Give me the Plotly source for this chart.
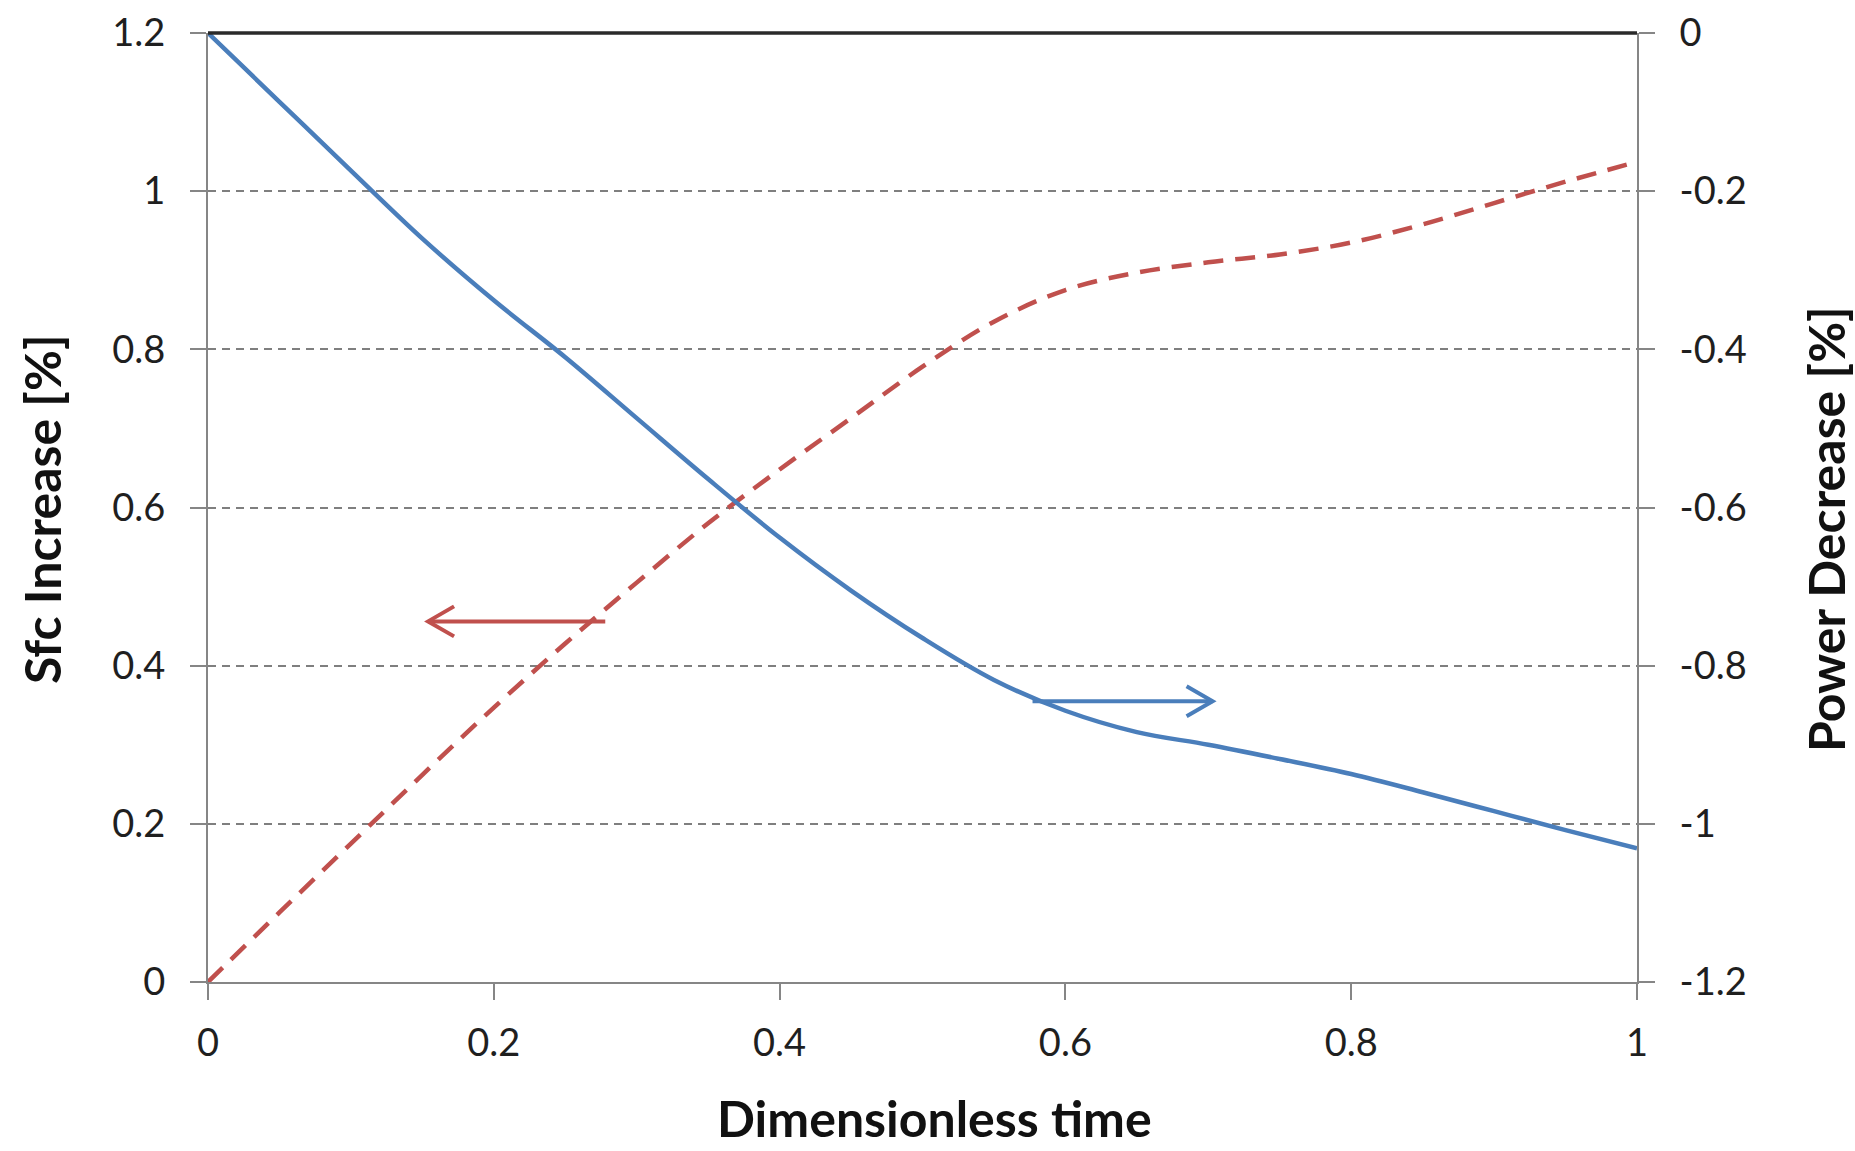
import plotly.graph_objects as go

# Data
t = [0, 0.05, 0.1, 0.15, 0.2, 0.25, 0.3, 0.35, 0.4, 0.45, 0.5,
     0.55, 0.6, 0.65, 0.7, 0.75, 0.8, 0.85, 0.9, 0.95, 1.0]
sfc_increase = [0, 0.088, 0.175, 0.262, 0.347, 0.428, 0.505, 0.58, 0.648, 0.713, 0.778,
                0.835, 0.875, 0.897, 0.91, 0.92, 0.935, 0.958, 0.985, 1.012, 1.037]
power_decrease = [0, -0.087, -0.174, -0.26, -0.338, -0.41, -0.487, -0.564, -0.638, -0.705, -0.765,
                  -0.818, -0.857, -0.884, -0.9, -0.918, -0.937, -0.96, -0.984, -1.008, -1.031]

x_ticks = [0, 0.2, 0.4, 0.6, 0.8, 1]
x_tick_labels = ["0", "0.2", "0.4", "0.6", "0.8", "1"]
y_left_ticks = [0, 0.2, 0.4, 0.6, 0.8, 1, 1.2]
y_left_labels = ["0", "0.2", "0.4", "0.6", "0.8", "1", "1.2"]
y_right_ticks = [-1.2, -1, -0.8, -0.6, -0.4, -0.2, 0]
y_right_labels = ["-1.2", "-1", "-0.8", "-0.6", "-0.4", "-0.2", "0"]

# Arrow annotations (tail x, head x, y on left axis)
red_arrow = dict(tail=0.278, head=0.154, y=0.456)
blue_arrow = dict(tail=0.577, head=0.703, y=0.355)

RED = "#C0504D"
BLUE = "#4A7EBB"
GRID = "#7F7F7F"
AXIS = "#868686"
FONT = "Lato"
TXT = "#1F1F1F"

fig = go.Figure()
fig.add_trace(go.Scatter(x=t, y=sfc_increase, mode="lines", yaxis="y",
                         line=dict(color=RED, width=4.5, dash="20px,12px", shape="spline", smoothing=1.0),
                         showlegend=False))
fig.add_trace(go.Scatter(x=t, y=power_decrease, mode="lines", yaxis="y2",
                         line=dict(color=BLUE, width=4.5, shape="spline", smoothing=1.0),
                         showlegend=False))

tick_font = dict(size=38, family=FONT, color=TXT)
fig.update_layout(
    width=1855, height=1151,
    margin=dict(l=208, r=218, t=33, b=169, autoexpand=False),
    paper_bgcolor="white", plot_bgcolor="white",
    font=dict(family=FONT, color=TXT),
    xaxis=dict(range=[0, 1], tickvals=x_ticks, ticktext=x_tick_labels, automargin=False,
               showgrid=False, zeroline=False, showline=True, linecolor=AXIS, linewidth=2,
               ticks="outside", ticklen=16, tickwidth=2, tickcolor=AXIS,
               tickfont=tick_font, ticklabelstandoff=10),
    yaxis=dict(range=[0, 1.2], tickvals=y_left_ticks, ticktext=y_left_labels, automargin=False,
               showgrid=True, gridcolor=GRID, gridwidth=2, griddash="8px,6px",
               zeroline=False, showline=True, linecolor=AXIS, linewidth=2,
               ticks="outside", ticklen=16, tickwidth=2, tickcolor=AXIS,
               tickfont=tick_font, ticklabelstandoff=17),
    yaxis2=dict(range=[-1.2, 0], tickvals=y_right_ticks, ticktext=y_right_labels, automargin=False,
                overlaying="y", side="right", showgrid=False, zeroline=False,
                showline=True, linecolor=AXIS, linewidth=2,
                ticks="outside", ticklen=16, tickwidth=2, tickcolor=AXIS,
                tickfont=tick_font, ticklabelstandoff=17),
)

# top dark border line
fig.add_shape(type="line", xref="paper", yref="paper", x0=0, x1=1, y0=1, y1=1,
              line=dict(color="#2A2A2A", width=3.5))

# arrows: shaft in data coordinates, open chevron head sized in pixels
for arr, col in ((red_arrow, RED), (blue_arrow, BLUE)):
    fig.add_shape(type="line", xref="x", yref="y",
                  x0=arr["tail"], x1=arr["head"], y0=arr["y"], y1=arr["y"],
                  line=dict(color=col, width=4))
    d = 1 if arr["tail"] > arr["head"] else -1
    fig.add_shape(type="path", xref="x", yref="y",
                  xsizemode="pixel", ysizemode="pixel",
                  xanchor=arr["head"], yanchor=arr["y"],
                  path=f"M {d*26},15 L 0,0 L {d*26},-15",
                  line=dict(color=col, width=4))

# axis titles
title_font = dict(size=50, family=FONT, color="#111111")
fig.add_annotation(text="<b>Sfc Increase [%]</b>", xref="paper", yref="paper",
                   x=-0.1162, y=0.4984, xanchor="center", yanchor="middle", textangle=-90,
                   showarrow=False, font=title_font)
fig.add_annotation(text="<b>Power Decrease [%]</b>", xref="paper", yref="paper",
                   x=1.1323, y=0.4773, xanchor="center", yanchor="middle", textangle=-90,
                   showarrow=False, font=title_font)
fig.add_annotation(text="<b>Dimensionless time</b>", xref="paper", yref="paper",
                   x=0.5087, y=-0.177, xanchor="center", yanchor="bottom",
                   showarrow=False, font=title_font)

fig.write_html("out.html", post_script="document.body.style.margin='0px';",
               config={"displayModeBar": False})
